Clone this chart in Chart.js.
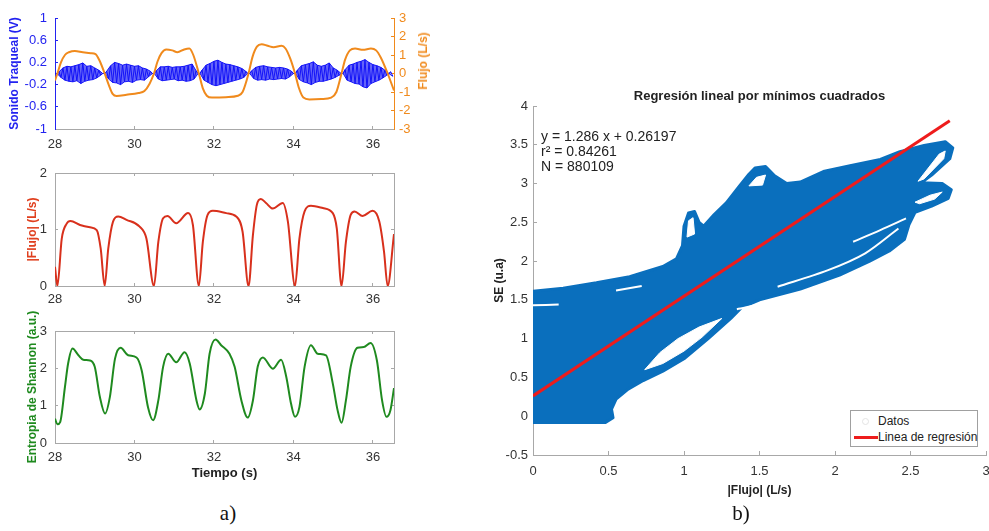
<!DOCTYPE html>
<html>
<head>
<meta charset="utf-8">
<script src="https://cdn.jsdelivr.net/npm/chart.js@4.4.1/dist/chart.umd.min.js"></script>
<style>
body { margin: 0; width: 989px; height: 531px; overflow: hidden; background: #fff; position: relative;
       font-family: 'Liberation Sans', Arial, Helvetica, sans-serif; }
canvas { position: absolute; }
.txt { position: absolute; white-space: nowrap; }
</style>
</head>
<body>
<canvas id="g1" width="430" height="160" style="left:0;top:0"></canvas>
<canvas id="g2" width="430" height="155" style="left:0;top:150px"></canvas>
<canvas id="g3" width="430" height="200" style="left:0;top:290px"></canvas>
<canvas id="g4" width="530" height="425" style="left:470px;top:80px"></canvas>

<div class="txt" style="left:423px;top:61px;transform:translate(-50%,-50%) rotate(-90deg);color:#f08a1c;font-weight:bold;font-size:12px">Flujo (L/s)</div>

<div class="txt" style="left:541px;top:129px;font-size:14px;line-height:15px;color:#222">y = 1.286 x + 0.26197<br>r² = 0.84261<br>N = 880109</div>

<div style="position:absolute;left:850px;top:410px;width:126px;height:35px;border:1px solid #a0a0a0;background:#fff;font-size:12px;color:#222">
  <div style="position:absolute;left:11px;top:7px;width:5px;height:5px;border:1px solid #e4e4e4;border-radius:50%"></div>
  <div class="txt" style="left:27px;top:3px">Datos</div>
  <div style="position:absolute;left:3px;top:25px;width:24px;height:3px;background:#ee1c1c"></div>
  <div class="txt" style="left:27px;top:19px">Linea de regresión</div>
</div>

<div class="txt" style="left:228px;top:513px;transform:translate(-50%,-50%);font-family:'Liberation Serif','Times New Roman',serif;font-size:21px;color:#111">a)</div>
<div class="txt" style="left:741px;top:513px;transform:translate(-50%,-50%);font-family:'Liberation Serif','Times New Roman',serif;font-size:21px;color:#111">b)</div>

<script>
// ---- datos panel a) ----
const ticksTiempo = [28, 30, 32, 34, 36]
const ticksSonido = [-1, -0.6, -0.2, 0.2, 0.6, 1]
const ticksFlujo = [-3, -2, -1, 0, 1, 2, 3]
const ticksAbs = [0, 1, 2]
const ticksEntropia = [0, 1, 2, 3]

// sonido traqueal, una muestra cada 0.05 s desde 28 s (picos)
const sonidoT0 = 28
const sonidoDt = 0.05
const sonido = [
  0, 0, 0.03, -0.07, 0.1, -0.12, 0.13, -0.14, 0.12, -0.15, 0.14, -0.13, 0.16, -0.18, 0.19, -0.14, 0.13, -0.12, 0.14, -0.11, 0.1, -0.08, 0.06, -0.03, 0, 0,
  0.04, -0.1, 0.14, -0.16, 0.2, -0.17, 0.18, -0.2, 0.15, -0.15, 0.17, -0.14, 0.15, -0.16, 0.13, -0.12, 0.14, -0.11, 0.1, -0.12, 0.08, -0.06, 0.04, 0, 0,
  0.05, -0.1, 0.12, -0.13, 0.12, -0.12, 0.13, -0.11, 0.11, -0.1, 0.12, -0.13, 0.12, -0.12, 0.13, -0.14, 0.15, -0.13, 0.17, -0.1, 0.05, 0, 0,
  0.06, -0.12, 0.15, -0.16, 0.18, -0.2, 0.22, -0.22, 0.24, -0.2, 0.2, -0.18, 0.17, -0.16, 0.16, -0.14, 0.14, -0.12, 0.12, -0.1, 0.09, -0.07, 0.04, 0, 0,
  0.05, -0.09, 0.11, -0.12, 0.13, -0.11, 0.14, -0.12, 0.12, -0.1, 0.11, -0.11, 0.1, -0.1, 0.11, -0.09, 0.1, -0.1, 0.08, -0.06, 0.04, 0, 0,
  0.06, -0.11, 0.14, -0.15, 0.16, -0.17, 0.18, -0.2, 0.21, -0.16, 0.15, -0.14, 0.13, -0.14, 0.15, -0.12, 0.19, -0.1, 0.1, -0.07, 0.06, -0.03, 0, 0,
  0.07, -0.12, 0.15, -0.15, 0.17, -0.18, 0.2, -0.19, 0.22, -0.24, 0.25, -0.26, 0.2, -0.18, 0.16, -0.15, 0.14, -0.12, 0.11, -0.08, 0.06, -0.03, 0, 0.03, -0.05
]

const flujoT = [28.0, 28.06, 28.15, 28.25, 28.35, 28.5, 28.7, 28.9, 29.02, 29.12, 29.25, 29.35, 29.45, 29.55, 29.8, 30.1, 30.25, 30.38, 30.49, 30.58,
  30.68, 30.8, 30.95, 31.08, 31.25, 31.38, 31.48, 31.62, 31.72, 31.82, 31.95, 32.3, 32.6, 32.72, 32.87, 32.97, 33.08, 33.2, 33.35, 33.5,
  33.7, 33.8, 33.92, 34.04, 34.14, 34.25, 34.4, 34.7, 34.95, 35.08, 35.21, 35.3, 35.42, 35.55, 35.75, 35.95, 36.08, 36.2, 36.37, 36.53]
const flujo = [-0.38, 0, 0.6, 1.0, 1.15, 1.22, 1.15, 1.1, 1.05, 0.7, 0, -0.6, -1.1, -1.22, -1.15, -1.05, -0.95, -0.55, 0, 0.65,
  1.1, 1.3, 1.25, 1.15, 1.3, 1.35, 1.0, 0, -0.8, -1.2, -1.3, -1.28, -1.2, -1.0, 0, 0.9, 1.45, 1.58, 1.5, 1.42,
  1.5, 1.35, 0.8, 0, -0.8, -1.3, -1.4, -1.38, -1.3, -1.0, 0, 0.75, 1.25, 1.35, 1.28, 1.35, 1.25, 0.85, 0, -0.92]

const flujoAbsT = [28.0, 28.06, 28.17, 28.29, 28.39, 28.63, 28.88, 29.05, 29.15, 29.25, 29.34, 29.46, 29.59, 29.8, 30.13, 30.3, 30.49, 30.6, 30.72, 30.83,
  31.05, 31.35, 31.47, 31.62, 31.72, 31.84, 31.97, 32.31, 32.56, 32.72, 32.87, 32.98, 33.08, 33.18, 33.31, 33.48, 33.73, 33.86, 34.04, 34.15,
  34.28, 34.44, 34.74, 34.99, 35.09, 35.21, 35.32, 35.44, 35.54, 35.74, 35.99, 36.16, 36.28, 36.37, 36.53]
const flujoAbs = [0.34, 0, 0.84, 1.1, 1.15, 1.08, 1.04, 0.99, 0.66, 0, 0.66, 1.14, 1.23, 1.17, 1.05, 0.84, 0, 0.78, 1.2, 1.24,
  1.11, 1.29, 1.08, 0, 0.78, 1.26, 1.33, 1.29, 1.23, 0.96, 0, 0.9, 1.44, 1.54, 1.47, 1.37, 1.47, 1.14, 0, 0.84,
  1.32, 1.42, 1.38, 1.29, 1.02, 0, 0.78, 1.26, 1.32, 1.24, 1.33, 1.14, 0.6, 0, 0.92]

const entropiaT = [28.0, 28.06, 28.13, 28.25, 28.33, 28.44, 28.59, 28.71, 28.88, 29.0, 29.13, 29.26, 29.38, 29.51, 29.65, 29.84, 30.05, 30.18, 30.34, 30.47,
  30.6, 30.72, 30.85, 31.05, 31.26, 31.39, 31.56, 31.64, 31.77, 31.89, 32.04, 32.18, 32.39, 32.52, 32.69, 32.85, 32.98, 33.1, 33.23, 33.48,
  33.69, 33.82, 33.94, 34.04, 34.15, 34.28, 34.44, 34.61, 34.82, 34.99, 35.11, 35.21, 35.32, 35.44, 35.61, 35.77, 35.94, 36.1, 36.23, 36.34, 36.44, 36.53]
const entropia = [0.65, 0.5, 0.56, 1.5, 2.13, 2.53, 2.35, 2.23, 2.21, 2.04, 1.23, 0.79, 1.23, 2.26, 2.55, 2.35, 2.29, 1.95, 0.96, 0.61,
  1.14, 2.04, 2.39, 2.16, 2.43, 2.13, 1.14, 0.9, 1.32, 2.39, 2.77, 2.62, 2.39, 2.04, 1.14, 0.68, 1.14, 2.04, 2.29, 1.99,
  2.23, 1.77, 1.05, 0.7, 0.96, 2.04, 2.62, 2.39, 2.35, 1.59, 0.88, 0.54, 1.14, 2.04, 2.55, 2.57, 2.68, 2.21, 1.14, 0.7, 0.88, 1.47]

// ---- datos panel b) ----
const ticksBx = [0, 0.5, 1, 1.5, 2, 2.5, 3]
const ticksBy = [-0.5, 0, 0.5, 1, 1.5, 2, 2.5, 3, 3.5, 4]
// contorno de la nube de datos (|Flujo|, SE)
const nube = [[0, -0.08], [-0.01, 0.6], [-0.01, 1.5], [0, 1.61], [0.2, 1.65], [0.42, 1.72], [0.64, 1.8], [0.86, 1.93], [0.95, 2.03], [0.99, 2.2],
  [1.0, 2.45], [1.03, 2.62], [1.07, 2.64], [1.1, 2.5], [1.13, 2.45], [1.2, 2.6], [1.28, 2.75], [1.36, 2.95], [1.43, 3.12], [1.47, 3.2],
  [1.54, 3.22], [1.6, 3.1], [1.68, 3.0], [1.77, 3.02], [1.93, 3.16], [2.1, 3.23], [2.3, 3.31], [2.43, 3.41], [2.59, 3.49], [2.73, 3.54],
  [2.78, 3.46], [2.76, 3.32], [2.64, 3.11], [2.57, 3.01], [2.71, 3.0], [2.77, 2.92], [2.75, 2.81], [2.64, 2.71], [2.53, 2.63], [2.49, 2.47],
  [2.46, 2.28], [2.36, 2.13], [2.23, 2.0], [2.03, 1.82], [1.77, 1.64], [1.5, 1.5], [1.38, 1.4], [1.31, 1.26], [1.16, 1.0], [1.0, 0.74],
  [0.86, 0.58], [0.73, 0.46], [0.63, 0.35], [0.55, 0.22], [0.52, 0.09], [0.53, -0.02], [0.48, -0.08], [0, -0.08]]
const lente = [[0.74, 0.6], [0.84, 0.82], [0.96, 1.0], [1.1, 1.15], [1.25, 1.26], [1.12, 1.02], [1.0, 0.84], [0.86, 0.68], [0.74, 0.6]]
const dedo1 = [[2.55, 3.03], [2.69, 3.38], [2.73, 3.42], [2.72, 3.32], [2.59, 3.06], [2.55, 3.03]]
const dedo2 = [[2.53, 2.76], [2.63, 2.85], [2.71, 2.89], [2.66, 2.8], [2.56, 2.74], [2.53, 2.76]]
const lazo1 = [[1.02, 2.31], [1.03, 2.52], [1.06, 2.56], [1.07, 2.35], [1.02, 2.31]]
const lazo2 = [[1.43, 2.97], [1.48, 3.08], [1.54, 3.11], [1.52, 2.98], [1.43, 2.97]]
const rendijas = [
  [[0, 1.43], [0.17, 1.44]],
  [[0.55, 1.62], [0.72, 1.68]],
  [[1.35, 1.38], [1.55, 1.46], [1.72, 1.52]],
  [[1.62, 1.67], [1.95, 1.88], [2.2, 2.1], [2.42, 2.42]],
  [[2.12, 2.25], [2.3, 2.4], [2.47, 2.55]]
]
const regX = [0, 2.76]
const regY = [0.262, 3.811]

// ---- estilos ----
Chart.defaults.font.family = "'Liberation Sans', Arial, Helvetica, sans-serif"
Chart.defaults.animation = false
const azul = '#1212f8'
const azulSuave = 'rgba(40, 40, 245, 0.72)'
const azulEje = '#2323f0'
const naranja = '#f08a1c'
const rojoA = '#d8301c'
const verde = '#1f8a1f'
const azulB = '#0a6fbd'
const rojoB = '#ee1c1c'

function pares(xs, ys) { return xs.map((x, i) => ({ x: x, y: ys[i] })) }
function puntos(lista) { return lista.map(p => ({ x: p[0], y: p[1] })) }

function eje(pos, min, max, marcas, tam, o) {
  o = o || {}
  const col = o.color || '#a8a8a8'
  return {
    type: 'linear', position: pos, min: min, max: max,
    afterBuildTicks: s => { s.ticks = marcas.map(v => ({ value: v })) },
    afterFit: s => {
      if (pos === 'top' || pos === 'bottom') s.height = tam; else s.width = tam
      s.paddingLeft = 0; s.paddingRight = 0; s.paddingTop = 0; s.paddingBottom = 0
    },
    border: { display: true, color: col, width: 1 },
    grid: { display: true, drawOnChartArea: false, drawTicks: true, tickLength: -(o.tick || 3), color: col, lineWidth: 1 },
    ticks: { display: !!o.labels, color: o.labelColor || '#333', font: { size: 13 }, padding: o.pad || 0,
             autoSkip: false, maxRotation: 0, callback: v => String(v) },
    title: { display: !!o.title, text: o.title || '', color: o.titleColor || '#222',
             font: { size: o.titleSize || 12, weight: 'bold' }, padding: { top: o.tpad || 0, bottom: o.tpad || 0 } }
  }
}

function linea(data, color, ancho, extra) {
  return Object.assign({ data: data, borderColor: color, borderWidth: ancho, showLine: true, pointRadius: 0, fill: false }, extra || {})
}

const base = { responsive: false, animation: false, events: [],
  plugins: { legend: { display: false }, tooltip: { enabled: false }, title: { display: false } } }

// picos positivos y negativos del sonido -> envolvente superior e inferior
const sonidoPts = sonido.map((v, i) => ({ x: sonidoT0 + i * sonidoDt, y: v }))
const sonidoSup = sonidoPts.filter(p => p.y >= 0)
const sonidoInf = sonidoPts.filter(p => p.y <= 0)

// panel 1: sonido y flujo
new Chart(document.getElementById('g1'), {
  type: 'scatter',
  data: { datasets: [
    linea(pares(flujoT, flujo), naranja, 2, { yAxisID: 'y2', cubicInterpolationMode: 'monotone' }),
    linea(sonidoPts, azul, 1, { yAxisID: 'y' }),
    linea(sonidoSup, azul, 1, { yAxisID: 'y', fill: '+1', backgroundColor: azulSuave }),
    linea(sonidoInf, azul, 1, { yAxisID: 'y' })
  ] },
  options: Object.assign({}, base, {
    layout: { padding: { top: 18 } },
    scales: {
      x: eje('bottom', 28, 36.53, ticksTiempo, 31, { labels: true, pad: 10.5 }),
      y: eje('left', -1, 1, ticksSonido, 55, { labels: true, pad: 11, color: azulEje, labelColor: azulEje,
             title: 'Sonido Traqueal (V)', titleColor: azulEje, tpad: 7.8 }),
      y2: eje('right', -3, 3, ticksFlujo, 36, { labels: true, pad: 8, color: naranja, labelColor: naranja })
    }
  })
})

// panel 2: |flujo|
new Chart(document.getElementById('g2'), {
  type: 'scatter',
  data: { datasets: [ linea(pares(flujoAbsT, flujoAbs), rojoA, 2, { cubicInterpolationMode: 'monotone' }) ] },
  options: Object.assign({}, base, {
    scales: {
      x: eje('bottom', 28, 36.53, ticksTiempo, 19, { labels: true, pad: 8.5 }),
      x2: eje('top', 28, 36.53, ticksTiempo, 23, {}),
      y: eje('left', 0, 2, ticksAbs, 55, { labels: true, pad: 11, title: '|Flujo| (L/s)', titleColor: '#e0401f', tpad: 25.8 }),
      y2: eje('right', 0, 2, ticksAbs, 36, {})
    }
  })
})

// panel 3: entropia
new Chart(document.getElementById('g3'), {
  type: 'scatter',
  data: { datasets: [ linea(pares(entropiaT, entropia), verde, 2, { cubicInterpolationMode: 'monotone' }) ] },
  options: Object.assign({}, base, {
    scales: {
      x: eje('bottom', 28, 36.53, ticksTiempo, 47, { labels: true, pad: 9.5, title: 'Tiempo (s)', titleSize: 13, tpad: 9 }),
      x2: eje('top', 28, 36.53, ticksTiempo, 41, {}),
      y: eje('left', 0, 3, ticksEntropia, 55, { labels: true, pad: 11, title: 'Entropia de Shannon (a.u.)', titleColor: verde, tpad: 25.8 }),
      y2: eje('right', 0, 3, ticksEntropia, 36, {})
    }
  })
})

// panel b: regresion
const huecos = [lente, dedo1, dedo2, lazo1, lazo2].map(h =>
  linea(puntos(h), '#ffffff', 1, { fill: 'shape', backgroundColor: '#ffffff', order: 2 }))
const cortes = rendijas.map(r => linea(puntos(r), '#ffffff', 2, { order: 1, tension: 0.3 }))

new Chart(document.getElementById('g4'), {
  type: 'scatter',
  data: { datasets: [
    linea(pares(regX, regY), rojoB, 3, { order: 0 }),
    ...cortes,
    ...huecos,
    linea(puntos(nube), azulB, 3, { fill: 'shape', backgroundColor: azulB, borderJoinStyle: 'round', order: 3 })
  ] },
  options: Object.assign({}, base, {
    layout: { padding: { right: 14 } },
    plugins: { legend: { display: false }, tooltip: { enabled: false },
      title: { display: true, text: 'Regresión lineal por mínimos cuadrados', color: '#222', fullSize: false,
               font: { size: 13, weight: 'bold' }, padding: { top: 9, bottom: 1.4 } } },
    scales: {
      x: eje('bottom', 0, 3, ticksBx, 50, { labels: true, pad: 12.5, tick: 4, title: '|Flujo| (L/s)', tpad: 6.8 }),
      y: eje('left', -0.5, 4, ticksBy, 63, { labels: true, pad: 9, tick: 4, title: 'SE (u.a)', tpad: 22.8 })
    }
  })
})
</script>
</body>
</html>
